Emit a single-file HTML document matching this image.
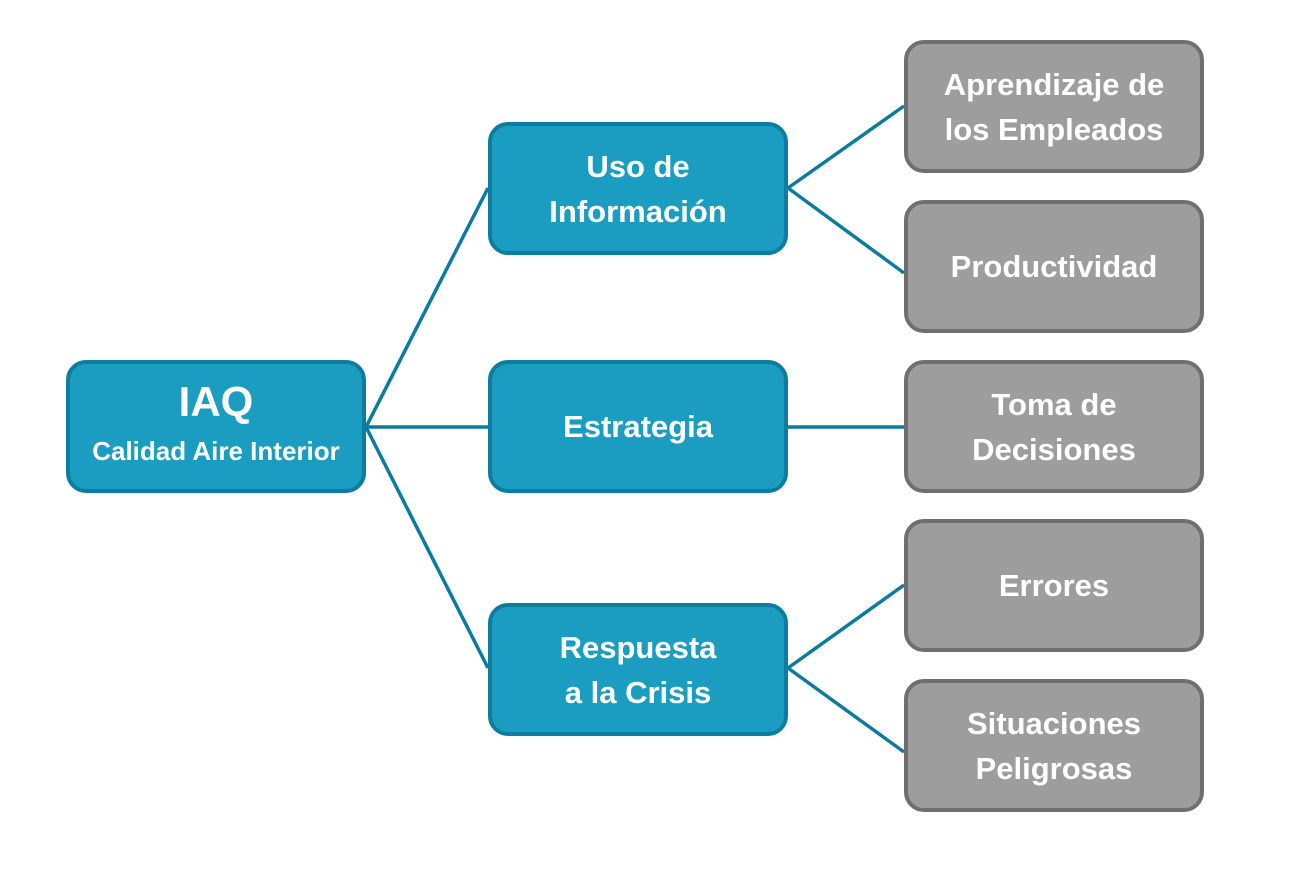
<!DOCTYPE html>
<html><head><meta charset="utf-8"><style>
body{margin:0;background:#fff;width:1304px;height:875px;overflow:hidden;position:relative;font-family:"Liberation Sans",sans-serif;}
.b{position:absolute;box-sizing:border-box;border-radius:20px;display:flex;align-items:center;justify-content:center;text-align:center;color:#fff;font-weight:bold;font-size:31px;line-height:45px;width:300px;height:133px;letter-spacing:0;white-space:nowrap}
.m{background:#1b9cc1;border:4px solid #0c7ca0}
.g{background:#9d9d9d;border:4px solid #6f6f6f;font-size:31px}
svg{position:absolute;left:0;top:0}
</style></head><body>
<svg width="1304" height="875"><g stroke="#0a7aa0" stroke-width="3.5" fill="none">
<line x1="366" y1="427" x2="488" y2="188"/><line x1="366" y1="427" x2="488" y2="427"/><line x1="366" y1="427" x2="488" y2="668"/>
<line x1="788" y1="188" x2="904" y2="106"/><line x1="788" y1="188" x2="904" y2="273"/>
<line x1="788" y1="427" x2="904" y2="427"/>
<line x1="788" y1="668" x2="904" y2="585"/><line x1="788" y1="668" x2="904" y2="752"/>
</g></svg>
<div class="b m" style="left:66px;top:360px;line-height:44px"><div><span style="font-size:42px">IAQ</span><br><span style="font-size:26px">Calidad Aire Interior</span></div></div>
<div class="b m" style="left:488px;top:122px">Uso de<br>Información</div>
<div class="b m" style="left:488px;top:360px">Estrategia</div>
<div class="b m" style="left:488px;top:603px">Respuesta<br>a la Crisis</div>
<div class="b g" style="left:904px;top:40px">Aprendizaje de<br>los Empleados</div>
<div class="b g" style="left:904px;top:200px">Productividad</div>
<div class="b g" style="left:904px;top:360px">Toma de<br>Decisiones</div>
<div class="b g" style="left:904px;top:519px">Errores</div>
<div class="b g" style="left:904px;top:679px">Situaciones<br>Peligrosas</div>
</body></html>
